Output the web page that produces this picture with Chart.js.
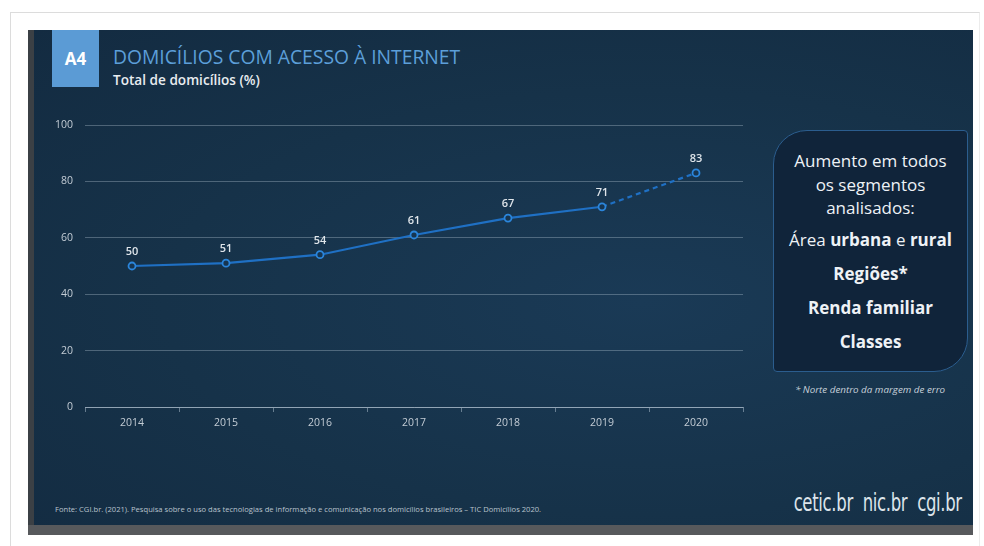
<!DOCTYPE html>
<html>
<head>
<meta charset="utf-8">
<script src="https://cdn.jsdelivr.net/npm/chart.js@4.4.0/dist/chart.umd.min.js"></script>
<style>
  html, body { margin: 0; padding: 0; background: #fff; }
  body { width: 984px; height: 546px; position: relative; overflow: hidden; font-family: "Open Sans", sans-serif; }
  .frame { position: absolute; left: 10px; top: 12px; width: 968px; height: 560px; border-left: 1px solid #dcdcdc; border-top: 1px solid #dcdcdc; border-right: 1px solid #ececec; }
  .shadow { position: absolute; left: 28px; top: 32px; width: 945px; height: 503px; background: #57595c; }
  .slide { position: absolute; left: 28px; top: 30px; width: 945px; height: 495px;
           background: radial-gradient(ellipse at 65% 55%, #1a3a56 0%, #163249 55%, #132b41 100%); overflow: hidden; }
  .strip { position: absolute; left: 0; top: 0; width: 6px; height: 100%; background: #3b4045; }
  .badge { position: absolute; left: 24px; top: 0; width: 47px; height: 57px; background: #5b9bd5; color: #fff;
           font-weight: 700; font-size: 17px; line-height: 57px; text-align: center; }
  .title { position: absolute; left: 85px; top: 13px; color: #5c9fd9; font-size: 19.3px; white-space: nowrap; }
  .subtitle { position: absolute; left: 85px; top: 40px; color: #e8ecf0; font-size: 13.6px; font-weight: 600; white-space: nowrap; }
  .box { position: absolute; left: 745px; top: 100px; width: 193px; height: 240px; background: #10243a;
         border: 1.5px solid #2b5d8e; border-radius: 34px 4px 34px 4px; }
  .box div { position: absolute; left: 0; width: 100%; text-align: center; color: #eef2f6; font-size: 17px; white-space: nowrap; }
  .note { position: absolute; left: 737px; top: 353px; width: 210px; text-align: center; color: #c9d2db; font-size: 9.8px; font-style: italic; white-space: nowrap; }
  .source { position: absolute; left: 27px; top: 474px; color: #b9c3cd; font-size: 7.6px; white-space: nowrap; }
  .logos { position: absolute; right: 11px; top: 458px; color: #dde4ea; font-family: "DejaVu Sans", sans-serif;
           font-size: 25px; white-space: nowrap; letter-spacing: -0.5px; transform: scaleX(0.66); transform-origin: right center; }
  canvas { position: absolute; left: 40px; top: 100px; }
</style>
</head>
<body>
<div class="frame"></div>
<div class="shadow"></div>
<div class="slide">
  <div class="strip"></div>
  <div class="badge">A4</div>
  <div class="title">DOMICÍLIOS COM ACESSO À INTERNET</div>
  <div class="subtitle">Total de domicílios (%)</div>
  <div class="box">
    <div style="top:18px">Aumento em todos</div>
    <div style="top:42px">os segmentos</div>
    <div style="top:65px">analisados:</div>
    <div style="top:97px">Área <b>urbana</b> e <b>rural</b></div>
    <div style="top:131px"><b>Regiões*</b></div>
    <div style="top:165px"><b>Renda familiar</b></div>
    <div style="top:199px"><b>Classes</b></div>
  </div>
  <div class="note">* Norte dentro da margem de erro</div>
  <div class="source">Fonte: CGI.br. (2021). Pesquisa sobre o uso das tecnologias de informação e comunicação nos domicílios brasileiros – TIC Domicílios 2020.</div>
  <div class="logos">cetic.br&nbsp; nic.br&nbsp; cgi.br</div>
</div>
<canvas id="chart" width="720" height="337"></canvas>
<script>
// values
const years = ['2014', '2015', '2016', '2017', '2018', '2019', '2020'];
const householdsPct = [50, 51, 54, 61, 67, 71, 83];
const yTicks = [0, 20, 40, 60, 80, 100];

const lineBlue = '#1f70c4';
const pointBlue = '#2b86dc';

// draws the value above each point
const valueLabels = {
    id: 'valueLabels',
    afterDatasetsDraw(chart) {
        const ctx = chart.ctx;
        const meta = chart.getDatasetMeta(0);
        ctx.save();
        ctx.font = '600 11px "Open Sans"';
        ctx.fillStyle = '#dfe5ea';
        ctx.textAlign = 'center';
        ctx.textBaseline = 'middle';
        meta.data.forEach((pt, i) => {
            ctx.fillText(String(householdsPct[i]), pt.x, pt.y - 14);
        });
        ctx.restore();
    }
};

new Chart(document.getElementById('chart'), {
    type: 'line',
    data: {
        labels: years,
        datasets: [{
            data: householdsPct,
            borderColor: lineBlue,
            borderWidth: 2.2,
            pointRadius: 3.5,
            pointBorderWidth: 1.8,
            pointBorderColor: pointBlue,
            pointBackgroundColor: '#173550',
            tension: 0,
            segment: {
                borderDash: c => c.p1DataIndex === years.length - 1 ? [5, 4] : undefined
            }
        }]
    },
    options: {
        responsive: false,
        animation: false,
        layout: { padding: { top: 25, right: 17, left: 0, bottom: 0 } },
        plugins: {
            legend: { display: false },
            tooltip: { enabled: false }
        },
        scales: {
            x: {
                offset: true,
                grid: {
                    offset: true,
                    drawOnChartArea: false,
                    drawTicks: true,
                    tickLength: 5,
                    tickColor: 'rgba(200,215,228,0.45)'
                },
                border: { color: 'rgba(200,215,228,0.55)', width: 1 },
                ticks: {
                    color: '#c3ccd5',
                    font: { family: 'Open Sans', size: 10.5 },
                    padding: 5,
                    maxRotation: 0
                },
                afterFit: s => { s.height = 30; }
            },
            y: {
                min: 0,
                max: 100,
                afterBuildTicks: s => { s.ticks = yTicks.map(v => ({ value: v })); },
                grid: { color: 'rgba(200,215,228,0.32)', lineWidth: 1, drawTicks: false },
                border: { display: false },
                ticks: {
                    color: '#c3ccd5',
                    font: { family: 'Open Sans', size: 10.5 },
                    padding: 12
                },
                afterFit: s => { s.width = 45; }
            }
        }
    },
    plugins: [valueLabels]
});
</script>
</body>
</html>
